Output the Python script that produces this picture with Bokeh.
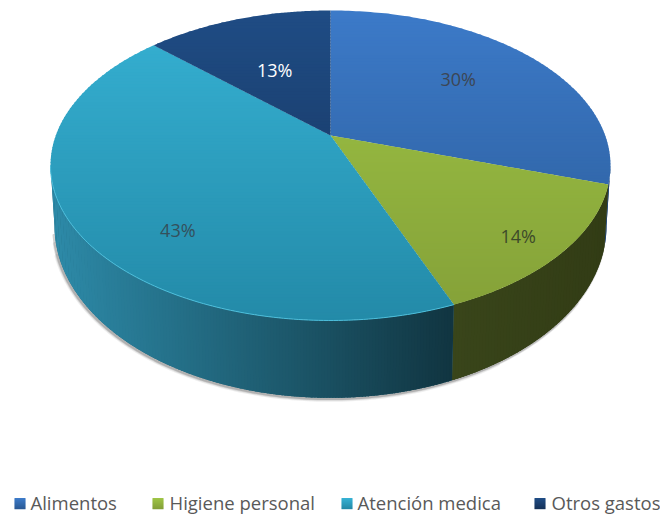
import numpy as np
from bokeh.core.properties import value
from bokeh.embed import file_html
from bokeh.models import ColumnDataSource
from bokeh.plotting import figure
from bokeh.resources import INLINE

# Chart data
categories = ["Alimentos", "Higiene personal", "Atención medica", "Otros gastos"]
shares = [30, 14, 43, 13]

# Palette: (top of face, bottom of face), (wall at its left end, wall at its right end)
FACE = [("#3c7ac8", "#2a5a96"), ("#9ec445", "#84a038"), ("#36b1d3", "#238aa8"), ("#1f4c84", "#15325a")]
WALL = [("#1f4370", "#1f4370"), ("#39451a", "#323c15"), ("#2d8aa8", "#113541"), ("#15325a", "#15325a")]
LABEL_COLOR = ["#3c4654", "#3d4a2a", "#34505c", "#ffffff"]
LABEL_RADIUS = [0.62, 0.83, 0.63, 0.53]
LABEL_NUDGE_X = [-1, 1, 1, -3]
LABEL_NUDGE_Y = [-6, 5, 38, 1]
LEGEND_SWATCH_X = [14, 152, 341, 534]
LEGEND_TEXT_X = [30, 169, 357, 551]
FONT = "Open Sans"

W, H = 660, 518
CX = 330
TILT = 0.1935


def project(theta, radius, apex_y, a, b):
    """Perspective view of a point on a horizontal disc (theta clockwise from the back)."""
    x, y = radius * np.sin(theta), radius * np.cos(theta)
    w = 1 + TILT * y
    return CX + a * x / w, apex_y - b * y / w


def upper(theta, radius=1.0):
    return project(theta, radius, 135, 274.7, 149.2)


def lower(theta):
    return project(theta, 1.0, 192, 270.8, 165.6)


def mix(c0, c1, t):
    a = np.array([int(c0[i:i + 2], 16) for i in (1, 3, 5)])
    b = np.array([int(c1[i:i + 2], 16) for i in (1, 3, 5)])
    return "#%02x%02x%02x" % tuple(int(round(v)) for v in a + (b - a) * t)


def clip_band(xs, ys, y0, y1):
    """Clip a convex polygon to a horizontal band."""
    def clip(px, py, keep, cross):
        ox, oy = [], []
        n = len(px)
        for i in range(n):
            j = (i + 1) % n
            if keep(py[i]):
                ox.append(px[i]); oy.append(py[i])
            if keep(py[i]) != keep(py[j]):
                t = (cross - py[i]) / (py[j] - py[i])
                ox.append(px[i] + t * (px[j] - px[i])); oy.append(cross)
        return ox, oy
    px, py = clip(list(xs), list(ys), lambda v: v >= y0, y0)
    if not px:
        return [], []
    return clip(px, py, lambda v: v <= y1, y1)


p = figure(width=W, height=H, x_range=(0, W), y_range=(H, 0), toolbar_location=None,
           output_backend="svg", min_border=0, outline_line_color=None,
           background_fill_color="white", border_fill_color="white")
p.axis.visible = False
p.grid.visible = False

edges = 2 * np.pi * np.cumsum([0] + shares) / sum(shares)
right_limit = np.arccos(-TILT)          # the rim's rightmost point
left_limit = 2 * np.pi - right_limit    # the rim's leftmost point

# Soft shadow under the front of the wall, thinning towards both ends
for start, stop, width, alpha in [(2.6, 4.35, 6, 0.10), (2.2, 4.42, 4, 0.16), (1.9, 4.47, 2.5, 0.28)]:
    sx, sy = lower(np.linspace(start, stop, 140))
    p.line(sx - 1, sy + 1, line_color="#555555", line_width=width, line_alpha=alpha, line_cap="round")

# Wall, a solid piece per slice, then vertical slats of even width for the shade
wx, wy, wc, bx_all, by_all, bc_all = [], [], [], [], [], []
for i in range(len(shares)):
    a0, a1 = max(edges[i], right_limit), min(edges[i + 1], left_limit)
    if a1 <= a0:
        continue
    dense = np.linspace(a0, a1, 400)
    ux, _ = upper(dense)
    tops = upper(dense); bots = lower(dense)
    bx_all.append(np.r_[tops[0], bots[0][::-1]])
    by_all.append(np.r_[tops[1], bots[1][::-1]])
    bc_all.append(mix(*WALL[i], 0.5))
    span = ux[0] - ux[-1]
    n_slats = max(1, int(span / 3))
    # Angles at which the rim crosses evenly spaced x positions
    cuts = np.interp(np.linspace(ux[0], ux[-1], n_slats + 1)[::-1], ux[::-1], dense[::-1])[::-1]
    for s in range(n_slats):
        seg = np.linspace(cuts[s], min(cuts[s + 1] + 0.004, a1), 5)
        tx, ty = upper(seg); bx, by = lower(seg)
        wx.append(np.r_[tx, bx[::-1]])
        wy.append(np.r_[ty, by[::-1]])
        # Slats run right to left; t = 1 is the wall's left end
        wc.append(mix(WALL[i][1], WALL[i][0], s / max(n_slats - 1, 1)))
p.patches(bx_all, by_all, fill_color=bc_all, line_color=None)
p.patches(wx, wy, fill_color=wc, line_color=None)

# Top face, cut into horizontal bands for the vertical shading
fx, fy, fc = [], [], []
for i in range(len(shares)):
    arc = np.linspace(edges[i], edges[i + 1], 120)
    ax, ay = upper(arc)
    ox, oy = upper(0.0, 0.0)
    xs, ys = np.r_[ox, ax], np.r_[oy, ay]
    y_top, y_bot = ys.min(), ys.max()
    band = 3.0
    y = y_top
    while y < y_bot:
        bx, by = clip_band(xs, ys, y, y + band + 0.8)
        if len(bx) >= 3:
            fx.append(bx); fy.append(by)
            # Shade follows the height on the whole disc
            fc.append(mix(FACE[i][0], FACE[i][1], min(max((y - 10) / 310, 0), 1)))
        y += band
p.patches(fx, fy, fill_color=fc, line_color=None)

# Pale highlight along the front edge of the large slice
hi = np.linspace(edges[2], left_limit, 120)
hx, hy = upper(hi)
p.line(hx, hy, line_color="#4cbedb", line_width=1.0)

# Percentage labels
mid = (edges[:-1] + edges[1:]) / 2
lx, ly = upper(mid, np.array(LABEL_RADIUS))
source = ColumnDataSource(dict(x=lx + np.array(LABEL_NUDGE_X), y=ly + np.array(LABEL_NUDGE_Y),
                               text=[f"{s}%" for s in shares], color=LABEL_COLOR))
p.text("x", "y", text="text", source=source, text_color="color", text_align="center",
       text_baseline="middle", text_font=value(FONT), text_font_size="18px")

# Legend along the bottom
sw_size = 11
sw_y = 503
sx0, sx1, sy0, sy1, sc = [], [], [], [], []
for i, x0 in enumerate(LEGEND_SWATCH_X):
    for r in range(sw_size):
        sx0.append(x0); sx1.append(x0 + sw_size)
        sy0.append(sw_y - sw_size / 2 + r); sy1.append(sw_y - sw_size / 2 + r + 1.2)
        sc.append(mix(FACE[i][0], FACE[i][1], r / (sw_size - 1)))
p.quad(left=sx0, right=sx1, top=sy0, bottom=sy1, fill_color=sc, line_color=None)
p.text(x=LEGEND_TEXT_X, y=[sw_y - 1] * len(categories), text=categories, text_color="#595959",
       text_align="left", text_baseline="middle", text_font=value(FONT), text_font_size="18.5px")

open("out.html", "w").write(file_html(p, INLINE))
